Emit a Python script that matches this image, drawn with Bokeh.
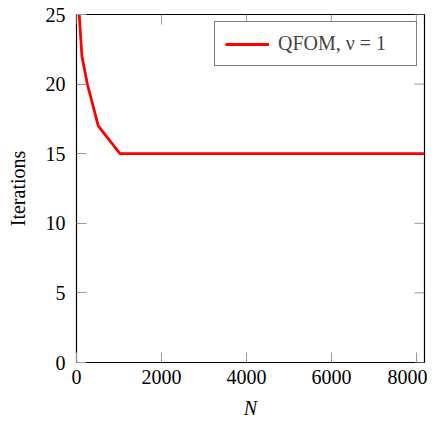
from bokeh.plotting import figure
from bokeh.models import FixedTicker, Range1d, Legend, LegendItem
from bokeh.embed import file_html
from bokeh.resources import INLINE

# Data
N = [16, 32, 64, 128, 256, 512, 1024, 2048, 4096, 8192]
iterations = [32, 28, 25, 22, 20, 17, 15, 15, 15, 15]
x_ticks = [0, 2000, 4000, 6000, 8000]
y_ticks = [0, 5, 10, 15, 20, 25]
series_label = "QFOM, ν = 1"

FONT = "Liberation Serif"
FS = "20px"
XMAX, YMAX = 8192, 25
FW, FH = 348, 348
TICK_PX = 10
TICK_COLOR = "#999999"

p = figure(frame_width=FW, frame_height=FH, output_backend="svg", toolbar_location=None,
           x_range=Range1d(0, XMAX), y_range=Range1d(0, YMAX),
           min_border_left=76, min_border_top=14, min_border_right=3, min_border_bottom=48)
p.background_fill_color = "white"
p.border_fill_color = "white"
p.grid.visible = False
p.outline_line_color = "black"
p.outline_line_width = 1.2

xa = p.below[0]
ya = p.left[0]

for ax, tk in ((xa, x_ticks), (ya, y_ticks)):
    ax.ticker = FixedTicker(ticks=tk)
    ax.major_tick_in = TICK_PX
    ax.major_tick_out = 0
    ax.minor_tick_line_color = None
    ax.major_tick_line_color = TICK_COLOR
    ax.major_tick_line_width = 1
    ax.axis_line_color = None
    ax.major_label_text_font = FONT
    ax.major_label_text_font_size = FS
    ax.major_label_text_color = "black"
    ax.axis_label_text_font = FONT
    ax.axis_label_text_font_size = FS
    ax.axis_label_text_color = "black"

xa.major_label_standoff = 7
ya.major_label_standoff = 11
xa.axis_label = "N"
xa.axis_label_text_font_style = "italic"
xa.axis_label_standoff = 10
ya.axis_label = "Iterations"
ya.axis_label_text_font_style = "normal"
ya.axis_label_standoff = 14

# mirrored ticks on top and right (tick length converted from pixels to data units)
dy = TICK_PX * YMAX / FH
dx = TICK_PX * XMAX / FW
p.segment(x0=x_ticks, y0=[YMAX] * len(x_ticks), x1=x_ticks, y1=[YMAX - dy] * len(x_ticks),
          line_color=TICK_COLOR, line_width=1)
p.segment(x0=[XMAX] * len(y_ticks), y0=y_ticks, x1=[XMAX - dx] * len(y_ticks), y1=y_ticks,
          line_color=TICK_COLOR, line_width=1)

r = p.line(N, iterations, line_color="#ff0000", line_width=2.8)

legend = Legend(items=[LegendItem(label=series_label, renderers=[r])], location="top_right")
legend.margin = 7
legend.padding = 10
legend.spacing = 0
legend.glyph_width = 44
legend.glyph_height = 20
legend.label_height = 20
legend.label_width = 128
legend.label_text_font = FONT
legend.label_text_font_size = FS
legend.label_standoff = 9
legend.border_line_color = "black"
legend.border_line_width = 1
legend.background_fill_alpha = 1
p.add_layout(legend, "center")

open("out.html", "w").write(file_html(p, INLINE))
